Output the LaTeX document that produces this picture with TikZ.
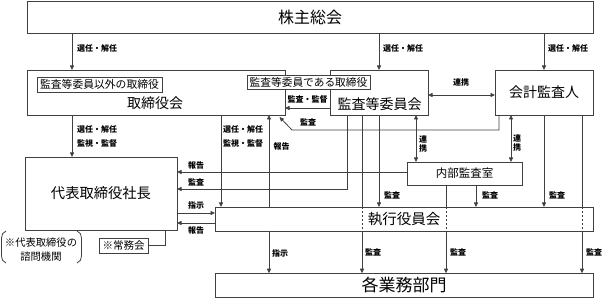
\documentclass[tikz,border=0pt]{standalone}
\usepackage{fontspec}
\setmainfont{Noto Sans CJK JP}
\usetikzlibrary{arrows.meta}
\definecolor{lc}{gray}{0.25}
\begin{document}
\begin{tikzpicture}[x=1pt,y=-1pt,
  box/.style={draw=lc, fill=white, line width=0.8pt, inner sep=0pt, outer sep=0pt},
  lbl/.style={font=\fontsize{8}{9}\selectfont\bfseries, inner sep=0pt},
  vlbl/.style={font=\fontsize{8}{8.6}\selectfont\bfseries, inner sep=0pt, align=center},
  ln/.style={line width=0.8pt, draw=lc},
  arr/.style={ln, -{Triangle[length=4.5pt,width=4pt]}},
  darr/.style={ln, {Triangle[length=4.5pt,width=4pt]}-{Triangle[length=4.5pt,width=4pt]}},
  dsh/.style={ln, dash pattern=on 2pt off 2pt}
]
\useasboundingbox (0,0) rectangle (603,299);

% boxes
\node[box, minimum width=566pt, minimum height=32pt, font=\fontsize{16}{18}\selectfont] (agm) at (310,17) {株主総会};
\node[box, minimum width=258pt, minimum height=45pt] (board) at (156,92.5) {};
\node[font=\fontsize{14}{16}\selectfont, inner sep=0pt] (boardt) at (155,103.5) {取締役会};
\node[box, minimum width=98pt, minimum height=45pt] (ac) at (379,92.5) {};
\node[font=\fontsize{14}{16}\selectfont, inner sep=0pt] (act) at (379.5,104) {監査等委員会};
\node[box, minimum width=98pt, minimum height=45pt, font=\fontsize{14}{16}\selectfont] (auditor) at (544,92.5) {会計監査人};
\node[box, minimum width=125pt, minimum height=15pt, font=\fontsize{10.8}{12}\selectfont] (sub1) at (99.5,84.5) {監査等委員以外の取締役};
\node[box, minimum width=123pt, minimum height=14pt, font=\fontsize{10.7}{12}\selectfont] (sub2) at (308.5,82) {監査等委員である取締役};
\node[box, minimum width=152pt, minimum height=73pt, font=\fontsize{14.3}{16}\selectfont] (ceo) at (101,193.5) {代表取締役社長};
\node[box, minimum width=115pt, minimum height=23pt, font=\fontsize{11.5}{13}\selectfont] (ia) at (464.5,173.5) {内部監査室};
\node[box, minimum width=378pt, minimum height=24pt, font=\fontsize{14.5}{16}\selectfont] (exec) at (404,219) {執行役員会};
\node[box, minimum width=378pt, minimum height=24.5pt, font=\fontsize{17}{19}\selectfont] (dept) at (404,285.5) {各業務部門};
\node[box, minimum width=49pt, minimum height=15pt, font=\fontsize{10.5}{12}\selectfont] (jomu) at (123.5,245.5) {※常務会};
\node[font=\fontsize{10.3}{14}\selectfont, inner sep=0pt, align=center] (advisory) at (41,250) {※代表取締役の\\諮問機関};
\draw[ln] (6,231) to[out=200,in=90] (1.5,238) -- (1.5,256) to[out=-90,in=160] (6,263);
\draw[ln] (77,231) to[out=-20,in=90] (81.5,238) -- (81.5,256) to[out=-90,in=20] (77,263);

% connectors
\draw[arr] (agm.south -| 72,0) -- (board.north -| 72,0);
\draw[arr] (agm.south -| 379,0) -- (ac.north);
\draw[arr] (agm.south -| 544,0) -- (auditor.north);
\draw[darr] (ac.east |- 0,95) -- (auditor.west |- 0,95);
\draw[arr] (board.south -| 72,0) -- (ceo.north -| 72,0);
\draw[arr] (board.south -| 221,0) -- (exec.north -| 221,0);
\draw[arr] (exec.north -| 269,0) -- (board.south -| 269,0);
\draw[arr] (ac.west |- 0,108) -- (board.east |- 0,108);
\coordinate (tip) at (279.5,117);
\draw[arr] (auditor.south -| 499,0) -- (499,130) -- (292,130) -- (tip);
\draw[arr] (ac.south -| 347,0) -- (347,189) -- (ceo.east |- 0,189);
\draw[arr] (ia.west |- 0,172) -- (ceo.east |- 0,172);
\draw[ln] (ac.south -| 362,0) -- (exec.north -| 362,0);
\draw[dsh] (exec.north -| 362,0) -- (exec.south -| 362,0);
\draw[arr] (exec.south -| 362,0) -- (dept.north -| 362,0);
\draw[arr] (ac.south -| 379,0) -- (exec.north -| 379,0);
\draw[darr] (ac.south -| 416,0) -- (ia.north -| 416,0);
\draw[ln] (ia.south -| 446,0) -- (exec.north -| 446,0);
\draw[dsh] (exec.north -| 446,0) -- (exec.south -| 446,0);
\draw[arr] (exec.south -| 446,0) -- (dept.north -| 446,0);
\draw[arr] (ia.south -| 476,0) -- (exec.north -| 476,0);
\draw[darr] (auditor.south -| 511,0) -- (ia.north -| 511,0);
\draw[arr] (auditor.south -| 544,0) -- (exec.north -| 544,0);
\draw[ln] (auditor.south -| 582,0) -- (exec.north -| 582,0);
\draw[dsh] (exec.north -| 582,0) -- (exec.south -| 582,0);
\draw[arr] (exec.south -| 582,0) -- (dept.north -| 582,0);
\draw[arr] (ceo.east |- 0,213) -- (exec.west |- 0,213);
\draw[arr] (exec.west |- 0,223) -- (ceo.east |- 0,223);
\draw[arr] (exec.south -| 269,0) -- (dept.north -| 269,0);
\draw[ln] (ceo.south -| 165,0) -- (165,245.5) -- (jomu.east);

% labels
\node[lbl, anchor=west] (l1) at (77,48) {選任・解任};
\node[lbl, anchor=west] (l2) at (383,48) {選任・解任};
\node[lbl, anchor=west] (l3) at (548,48) {選任・解任};
\node[lbl] (l4) at (461,82) {連携};
\node[lbl, anchor=west] (l5) at (77,129) {選任・解任};
\node[lbl, anchor=west] (l6) at (77,143) {監視・監督};
\node[lbl, anchor=west] (l7) at (223,129) {選任・解任};
\node[lbl, anchor=west] (l8) at (223,143) {監視・監督};
\node[lbl] (l9) at (281.5,146) {報告};
\node[lbl] (l10) at (307.5,99) {監査・監督};
\node[lbl] (l11) at (308,122) {監査};
\node[lbl] (l12) at (196,165) {報告};
\node[lbl] (l13) at (196,182) {監査};
\node[lbl] (l14) at (196,205) {指示};
\node[lbl] (l15) at (196,230) {報告};
\node[lbl] (l16) at (280,253) {指示};
\node[lbl] (l17) at (392,195) {監査};
\node[lbl] (l18) at (373,252) {監査};
\node[vlbl] (l19) at (423,144) {連\\携};
\node[lbl] (l20) at (458,252) {監査};
\node[lbl] (l21) at (490,195) {監査};
\node[lbl] (l22) at (557,195) {監査};
\node[lbl] (l23) at (594,252) {監査};
\node[vlbl] (l24) at (517,143) {連\\携};
\end{tikzpicture}
\end{document}
